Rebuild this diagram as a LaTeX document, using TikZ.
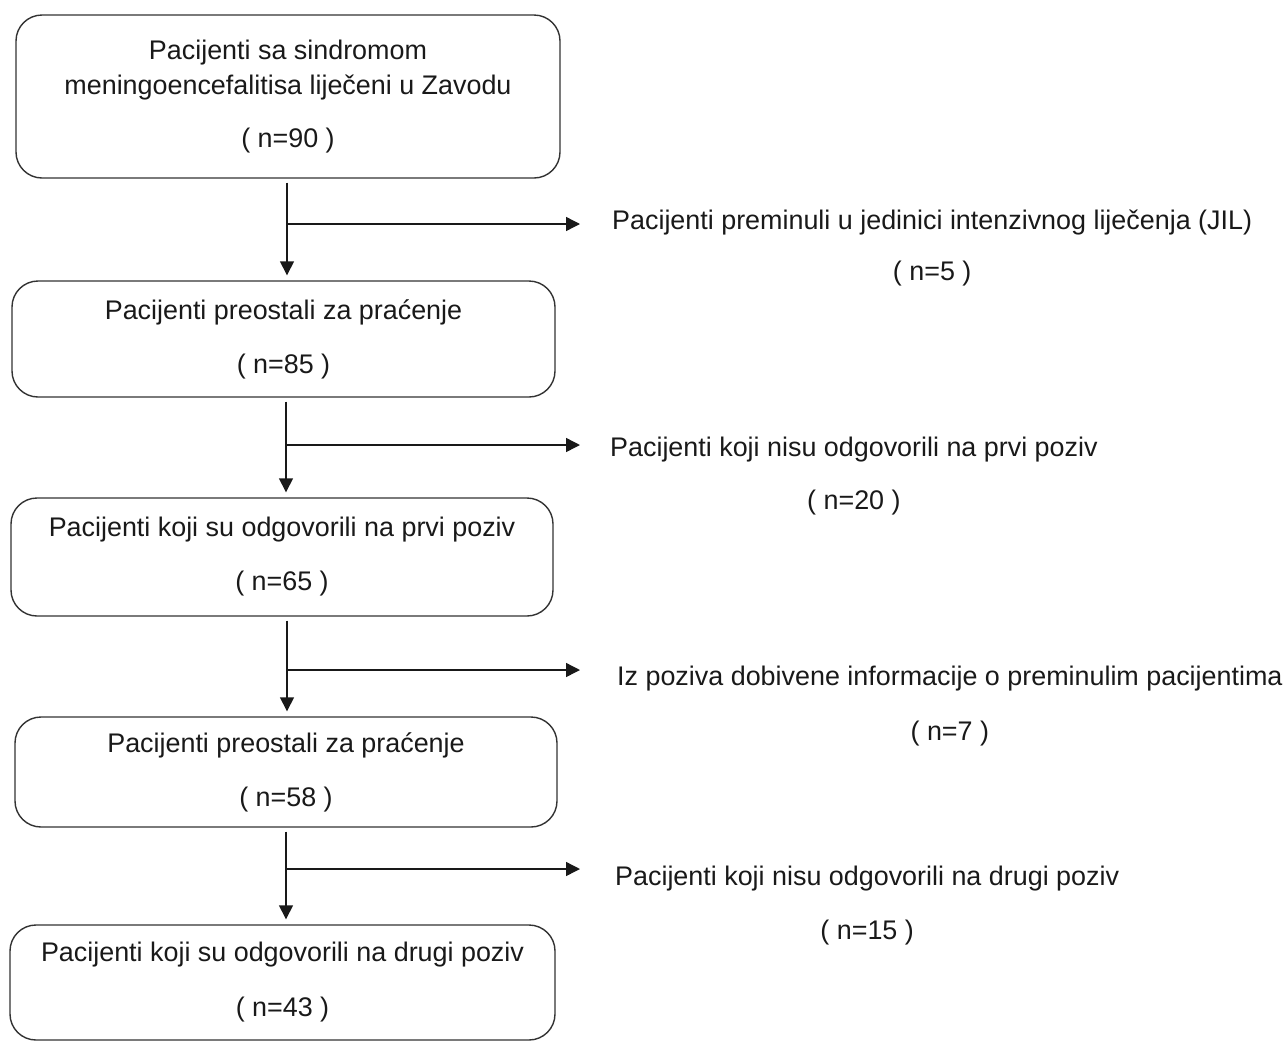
\documentclass[tikz,border=0pt]{standalone}
\usepackage{fontspec}
\setmainfont{Liberation Sans}
\usetikzlibrary{arrows.meta}
\begin{document}
\begin{tikzpicture}[x=1pt,y=-1pt,
  every node/.style={text=black!90},
  box/.style={draw=black!80, line width=1.4pt, rounded corners=26pt, align=center, inner sep=0pt, font=\fontsize{26.9}{35}\selectfont},
  lbl/.style={align=center, inner sep=0pt, anchor=north west, font=\fontsize{26.9}{35}\selectfont},
  arr/.style={draw=black!90, line width=1.4pt, -{Triangle[width=14pt,length=14pt]}},
  vtrunk/.style={arr, shorten <=4pt, shorten >=5pt}]
\useasboundingbox (0,0) rectangle (1286,1042);
% boxes
\node[box, minimum width=544pt, minimum height=163pt] (b1) at (288,96.5)
  {Pacijenti sa sindromom\\meningoencefalitisa liječeni u Zavodu\\[18pt]( n=90 )};
\node[box, minimum width=543pt, minimum height=116pt] (b2) at (283.5,339)
  {Pacijenti preostali za praćenje\\[19pt]( n=85 )};
\node[box, minimum width=542pt, minimum height=118pt] (b3) at (282,557)
  {Pacijenti koji su odgovorili na prvi poziv\\[19pt]( n=65 )};
\node[box, minimum width=542pt, minimum height=110pt] (b4) at (286,772)
  {Pacijenti preostali za praćenje\\[19pt]( n=58 )};
\node[box, minimum width=545pt, minimum height=115pt] (b5) at (282.5,982.5)
  {Pacijenti koji su odgovorili na drugi poziv\\[20pt]( n=43 )};
% side labels
\node[lbl] (r1) at (612,209.5) {Pacijenti preminuli u jedinici intenzivnog liječenja (JIL)\\[16pt]( n=5 )};
\node[lbl] (r2) at (610,436.5) {Pacijenti koji nisu odgovorili na prvi poziv\\[18pt]( n=20 )};
\node[lbl] (r3) at (617,665.5) {Iz poziva dobivene informacije o preminulim pacijentima\\[20pt]( n=7 )};
\node[lbl] (r4) at (615,865.5) {Pacijenti koji nisu odgovorili na drugi poziv\\[19pt]( n=15 )};
% trunk x positions
\coordinate (x1) at (287,0);
\coordinate (x2) at (286,0);
\coordinate (x3) at (287,0);
\coordinate (x4) at (286,0);
% vertical arrows
\draw[vtrunk] (b1.south -| x1) -- (b2.north -| x1);
\draw[vtrunk] (b2.south -| x2) -- (b3.north -| x2);
\draw[vtrunk] (b3.south -| x3) -- (b4.north -| x3);
\draw[vtrunk] (b4.south -| x4) -- (b5.north -| x4);
% branches
\coordinate (j1) at (287,224); \coordinate (t1) at (580,224);
\coordinate (j2) at (286,445); \coordinate (t2) at (580,445);
\coordinate (j3) at (287,670); \coordinate (t3) at (580,670);
\coordinate (j4) at (286,869); \coordinate (t4) at (580,869);
\draw[arr] (j1) -- (t1);
\draw[arr] (j2) -- (t2);
\draw[arr] (j3) -- (t3);
\draw[arr] (j4) -- (t4);
\end{tikzpicture}
\end{document}
